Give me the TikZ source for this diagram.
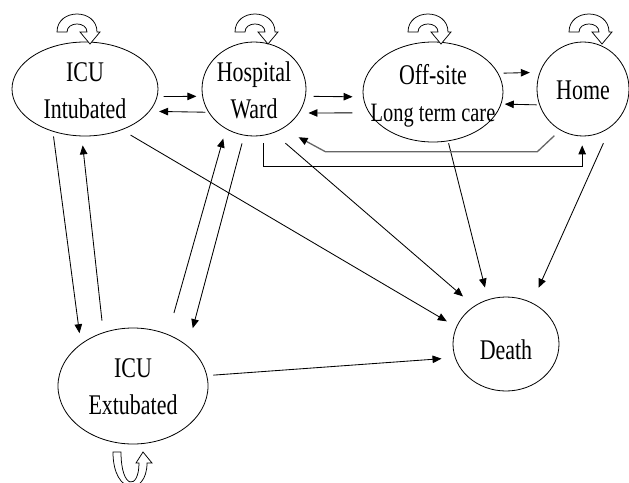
\documentclass[tikz,border=0pt]{standalone}
\usepackage{fontspec}
\setmainfont{Liberation Serif}
\newfontfamily\dfont[FakeStretch=0.77]{Liberation Serif}
\usetikzlibrary{arrows.meta,shapes.geometric}
\begin{document}
\begin{tikzpicture}[x=1pt,y=-1pt,
  st/.style={draw, ellipse, inner sep=0pt, line width=0.8pt},
  lab/.style={align=center, font=\dfont\fontsize{28.5}{37}\selectfont, inner sep=0pt},
  ar/.style={-{Triangle[length=9pt,width=7.5pt,color=black]}, line width=0.85pt},
  loopar/.pic={\draw[line width=0.75pt, fill=white] (-20,0) .. controls (-20,-24) and (20,-24) .. (20,0) -- (23,0) -- (13,12) -- (3,0) -- (10,0) .. controls (10,-10.7) and (-10,-10.7) .. (-10,0) -- cycle;}
]
\fill[white] (0,0) rectangle (629,482);
\useasboundingbox (0,0) rectangle (629,482);

\node[st, minimum width=146pt, minimum height=94pt, label={[lab,yshift=-1.5pt]center:ICU\\Intubated}] (A) at (85,89) {};
\node[st, minimum width=104pt, minimum height=94pt, label={[lab,yshift=-1.5pt]center:Hospital\\Ward}] (B) at (254,89) {};
\node[st, minimum width=140pt, minimum height=100pt, label={[lab,yshift=-4pt]center:Off-site\\{\fontsize{26.5}{35}\selectfont Long term care}}] (C) at (433,92) {};
\node[st, minimum width=92pt, minimum height=94pt, label={[lab,yshift=-1.5pt]center:Home}] (D) at (583,89) {};
\node[st, minimum width=150pt, minimum height=116pt, label={[lab,yshift=-0.7pt]center:ICU\\Extubated}] (E) at (133,386) {};
\node[st, minimum width=106pt, minimum height=94pt, label={[lab,yshift=-5.7pt]center:Death}] (F) at (506,344) {};

% horizontal pairs
\draw[ar, shorten <=6.1pt, shorten >=5.8pt] (A.-6.35) -- (B.188.87);
\draw[ar, shorten <=3pt, shorten >=9.3pt] (B.-153.1) -- (A.-19.87);
\draw[ar, shorten <=7.8pt, shorten >=10.35pt] (B.-8.874) -- (C.184.1);
\draw[ar, shorten <=16.5pt, shorten >=9.3pt] (C.198.3) -- (B.-28.23);
\draw[ar, shorten <=5.25pt, shorten >=9.75pt] (C.16.35) -- (D.159.7);
\draw[ar, shorten <=2.75pt, shorten >=3.4pt] (D.200.3) -- (C.-10.89);

% to Death
\draw[ar, shorten <=10.1pt, shorten >=10.9pt] (A.-48.4) -- (F.161.6);
\draw[ar, shorten <=15.7pt, shorten >=14.6pt] (B.-66.4) -- (F.130.5);
\draw[ar, shorten <=2.1pt, shorten >=12.2pt] (C.-73.5) -- (F.112.1);
\draw[ar, shorten <=17.6pt, shorten >=16.2pt] (D.-54.3) -- (F.58.4);
\draw[ar, shorten <=6.2pt, shorten >=13.4pt] (E.8.15) -- (F.195.5);

% ICU pairs
\draw[ar, shorten <=4.9pt, shorten >=10.7pt] (A.-127.5) -- (E.141.8);
\draw[ar, shorten <=11.8pt, shorten >=9.1pt] (E.119.1) -- (A.-94.9);
\draw[ar, shorten <=22.1pt, shorten >=9.9pt] (E.56.7) -- (B.-125.6);
\draw[ar, shorten <=8.1pt, shorten >=18.5pt] (B.-102.1) -- (E.36.5);

% bent connectors
\draw[ar, shorten <=7.7pt, shorten >=9pt] (B.-79) -- ++(0,30.7) -| (D.-91.2);
\draw[ar, draw=black!60, line width=1.3pt, shorten <=7.9pt, shorten >=18pt] (D.-119.8) -- ++(-22.8,21.44) -- ++(-212,0) -- (B.-54.9);

% self loops
\pic at (77,32) {loopar};
\pic at (255,32) {loopar};
\pic at (428,32) {loopar};
\pic at (589,32) {loopar};
\draw[line width=0.75pt, fill=white] (113,452) .. controls (113,496) and (147,496) .. (147,463) -- (152,463) -- (143,452) -- (136,463) -- (139,463) .. controls (139,490) and (121,490) .. (121,452) -- cycle;
\end{tikzpicture}
\end{document}
